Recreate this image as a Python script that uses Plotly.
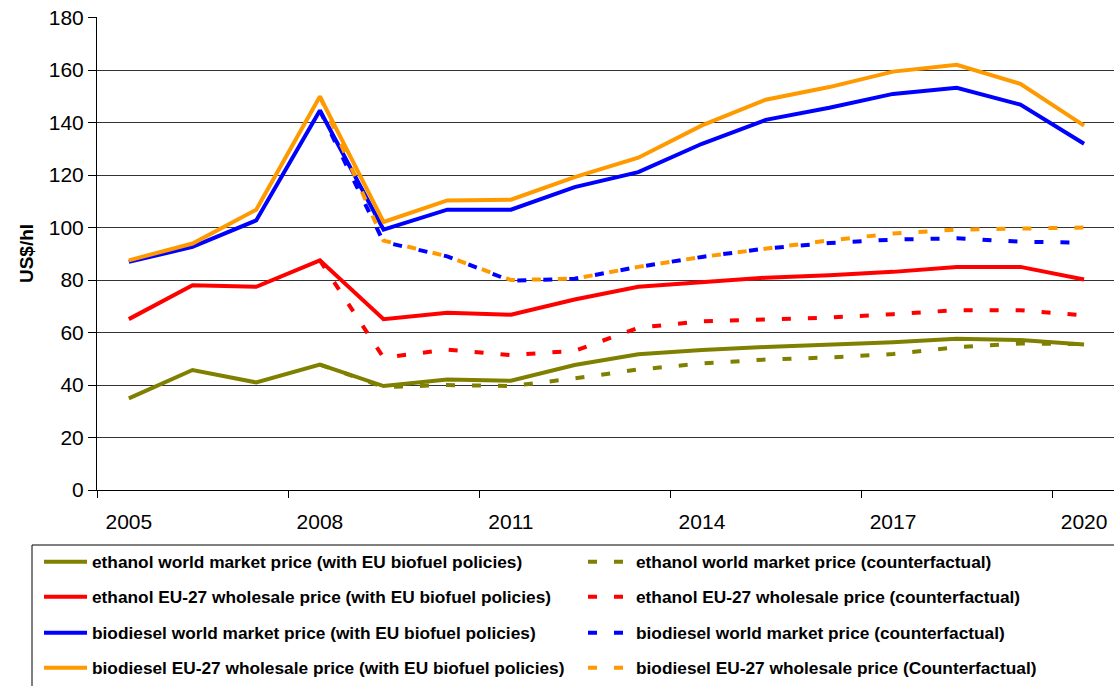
import plotly.graph_objects as go

years = list(range(2005, 2021))

eth_world = [34.9, 45.7, 41.0, 47.8, 39.6, 42.1, 41.6, 47.6, 51.7, 53.3, 54.5, 55.3, 56.3, 57.6, 57.1, 55.4]
eth_world_cf = [None, None, None, 47.8, 39.2, 40.0, 39.6, 42.5, 45.9, 48.2, 49.7, 50.5, 51.8, 54.4, 55.8, 55.6]
eth_eu = [65.1, 78.0, 77.4, 87.5, 65.1, 67.5, 66.8, 72.6, 77.4, 79.3, 80.9, 81.8, 83.1, 85.0, 85.0, 80.2]
eth_eu_cf = [None, None, None, 87.5, 50.4, 53.5, 51.4, 53.0, 61.8, 64.3, 65.0, 65.7, 67.0, 68.5, 68.5, 66.5]
bio_world = [86.9, 92.6, 102.7, 144.6, 99.2, 106.8, 106.8, 115.4, 121.1, 131.9, 141.0, 145.6, 150.9, 153.2, 146.8, 131.9]
bio_world_cf = [None, None, None, 144.6, 94.5, 89.0, 79.7, 80.5, 85.0, 88.8, 92.0, 94.1, 95.4, 95.9, 94.6, 94.2]
bio_eu = [87.5, 93.9, 106.8, 149.9, 102.1, 110.3, 110.6, 119.2, 126.6, 138.9, 148.7, 153.5, 159.4, 162.0, 154.7, 138.8]
bio_eu_cf = [None, None, None, 149.9, 95.0, 89.0, 80.0, 80.5, 85.0, 88.8, 91.9, 95.1, 97.7, 99.2, 99.6, 100.0]

series = [
    ("ethanol world market price (with EU biofuel policies)", eth_world, "#808000", "solid", "legend"),
    ("ethanol world market price (counterfactual)", eth_world_cf, "#808000", "9px,17px", "legend"),
    ("ethanol EU-27 wholesale price (with EU biofuel policies)", eth_eu, "#FF0000", "solid", "legend2"),
    ("ethanol EU-27 wholesale price (counterfactual)", eth_eu_cf, "#FF0000", "9px,17px", "legend2"),
    ("biodiesel world market price (with EU biofuel policies)", bio_world, "#0000FF", "solid", "legend3"),
    ("biodiesel world market price (counterfactual)", bio_world_cf, "#0000FF", "9px,17px", "legend3"),
    ("biodiesel EU-27 wholesale price (with EU biofuel policies)", bio_eu, "#FF9900", "solid", "legend4"),
    ("biodiesel EU-27 wholesale price (Counterfactual)", bio_eu_cf, "#FF9900", "9px,17px", "legend4"),
]

tick_years = [2005, 2008, 2011, 2014, 2017, 2020]
boundaries = [2004.5, 2007.5, 2010.5, 2013.5, 2016.5, 2019.5]
y_ticks = list(range(0, 181, 20))

fig = go.Figure()
for name, vals, color, dash, lg in series:
    fig.add_trace(go.Scatter(
        x=years, y=vals, name=name, mode="lines",
        line=dict(color=color, width=4, dash=dash),
        legend=lg, connectgaps=False,
    ))

W, H = 1114, 686
L, R, T, B = 97, 0, 17, 196
pw, ph = W - L - R, H - T - B

def px_x(x):
    return (x - L) / pw

def px_y(y):
    return (H - B - y) / ph

legend_rows = [562, 597, 633, 668]
legend_common = dict(
    orientation="h", entrywidth=486, entrywidthmode="pixels", itemwidth=43,
    x=px_x(39), xanchor="left", yanchor="middle",
    bgcolor="rgba(0,0,0,0)", borderwidth=0,
    font=dict(family="Liberation Sans, Arial, sans-serif", size=17.3, color="black", weight="bold"),
)
layout_legends = {}
for i, yy in enumerate(legend_rows):
    key = "legend" if i == 0 else f"legend{i+1}"
    layout_legends[key] = dict(legend_common, y=px_y(yy))

fig.update_layout(
    width=W, height=H,
    margin=dict(l=L, r=R, t=T, b=B, autoexpand=False),
    paper_bgcolor="white", plot_bgcolor="white",
    font=dict(family="Liberation Sans, Arial, sans-serif", color="black"),
    showlegend=True,
    **layout_legends,
)

fig.update_xaxes(
    range=[2004.5, 2020.47],
    tickmode="array", tickvals=tick_years, ticktext=[str(y) for y in tick_years],
    ticks="", ticklabelstandoff=13,
    tickfont=dict(size=21, color="black"),
    showline=True, linecolor="black", linewidth=1,
    showgrid=False, zeroline=False,
    minor=dict(tickmode="array", tickvals=boundaries, ticks="outside", ticklen=7,
               tickcolor="black", tickwidth=1, showgrid=False),
)
fig.update_yaxes(
    range=[0, 180.2], tickmode="array", tickvals=y_ticks,
    ticks="outside", ticklen=8, tickcolor="black", ticklabelstandoff=0,
    ticklabeloverflow="allow",
    tickfont=dict(size=21, color="black"),
    showline=True, linecolor="black", linewidth=1,
    showgrid=True, gridcolor="#333333", gridwidth=1, zeroline=False,
    title=dict(text="US$/hl", font=dict(size=19, color="black", weight="bold"), standoff=10),
)

fig.add_shape(type="rect", xref="paper", yref="paper",
              x0=px_x(32), x1=px_x(1130), y0=px_y(545), y1=px_y(720),
              line=dict(color="black", width=1), fillcolor="rgba(0,0,0,0)", layer="below")

fig.write_html("out.html", config={"displayModeBar": False},
               post_script="document.body.style.margin='0';document.body.style.overflow='hidden';")
